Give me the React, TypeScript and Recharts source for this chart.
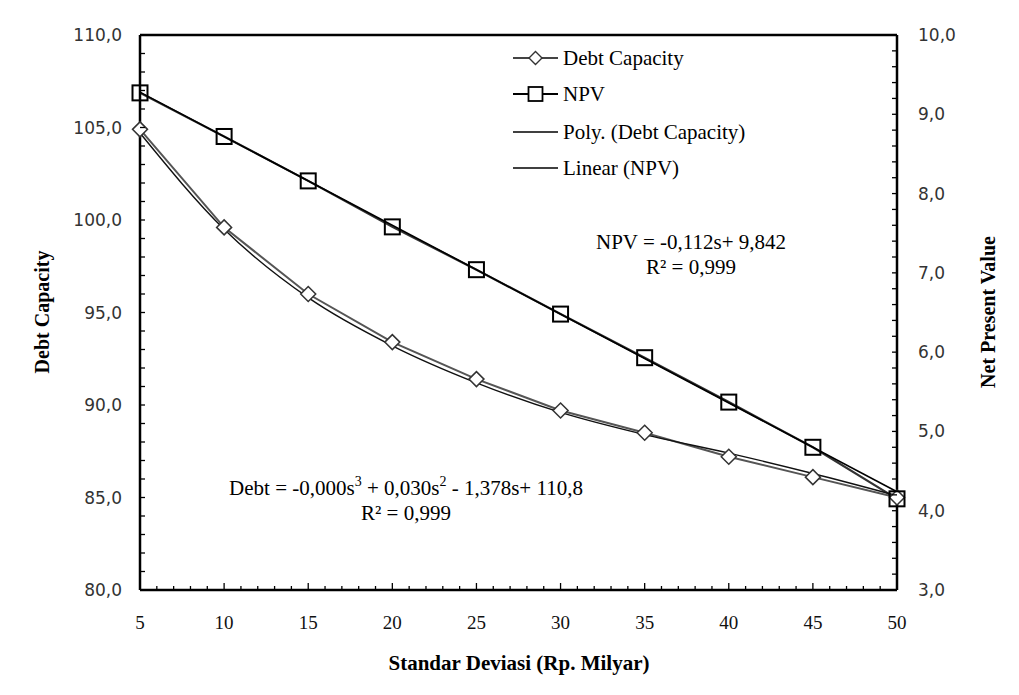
import React from 'react';
import { ComposedChart, Line, XAxis, YAxis, ReferenceLine, Legend, Customized } from 'recharts';

// Standard deviation (Rp. billion) on the x axis
const deviations = [5, 10, 15, 20, 25, 30, 35, 40, 45, 50];
// Debt capacity (left axis)
const debtCapacity = [104.9, 99.6, 96.0, 93.4, 91.4, 89.7, 88.5, 87.2, 86.1, 85.0];
// Polynomial trend of debt capacity
const debtPolyTrend = [104.7, 99.5, 95.8, 93.2, 91.2, 89.6, 88.4, 87.4, 86.3, 85.1];
// Net present value (right axis)
const npvValues = [9.27, 8.72, 8.16, 7.58, 7.04, 6.48, 5.93, 5.37, 4.8, 4.15];
// Linear trend of NPV (end points)
const npvLinearTrend: (number | null)[] = [9.28, null, null, null, null, null, null, null, null, 4.24];

const xMajorTicks = [5, 10, 15, 20, 25, 30, 35, 40, 45, 50];
const debtMajorTicks = [80, 85, 90, 95, 100, 105, 110];
const npvMajorTicks = [3, 4, 5, 6, 7, 8, 9, 10];

const xTicks = Array.from({ length: 46 }, (_, i) => 5 + i);
const debtTicks = Array.from({ length: 31 }, (_, i) => 80 + i);
const npvTicks = Array.from({ length: 36 }, (_, i) => Math.round((3 + i * 0.2) * 10) / 10);

const data = deviations.map((s, i) => ({
  s,
  debt: debtCapacity[i],
  debtTrend: debtPolyTrend[i],
  npv: npvValues[i],
  npvTrend: npvLinearTrend[i],
}));

const SERIF = "'Liberation Serif', 'Times New Roman', serif";
const SANS = "'DejaVu Sans', Verdana, sans-serif";

const fmt = (v: number) => v.toFixed(1).replace('.', ',');

const XTick = (props: any) => {
  const { x, y, payload } = props;
  const v = payload.value as number;
  const major = xMajorTicks.includes(v);
  return (
    <g>
      <line x1={x} x2={x} y1={y} y2={y - (major ? 7 : 4)} stroke="#000" strokeWidth={1.3} />
      {major && (
        <text x={x} y={y + 32} textAnchor="middle" dominantBaseline="central" fontFamily={SERIF} fontSize={19} fill="#111">
          {v}
        </text>
      )}
    </g>
  );
};

const LeftTick = (props: any) => {
  const { x, y, payload } = props;
  const v = payload.value as number;
  const major = debtMajorTicks.includes(v);
  return (
    <g>
      <line x1={x} x2={x + 5} y1={y} y2={y} stroke="#000" strokeWidth={1.3} />
      {major && (
        <text x={x - 18} y={y} textAnchor="end" dominantBaseline="central" fontFamily={SANS} fontSize={17} fill="#333">
          {fmt(v)}
        </text>
      )}
    </g>
  );
};

const RightTick = (props: any) => {
  const { x, y, payload } = props;
  const v = payload.value as number;
  const major = npvMajorTicks.some((m) => Math.abs(m - v) < 1e-6);
  return (
    <g>
      <line x1={x} x2={x - 5} y1={y} y2={y} stroke="#000" strokeWidth={1.3} />
      {major && (
        <text x={x + 21} y={y} textAnchor="start" dominantBaseline="central" fontFamily={SANS} fontSize={17} fill="#333">
          {fmt(v)}
        </text>
      )}
    </g>
  );
};

const diamondPath = (cx: number, cy: number, r: number) =>
  `M${cx},${cy - r} L${cx + r},${cy} L${cx},${cy + r} L${cx - r},${cy} Z`;

const renderDiamond = (p: any) => {
  if (p.cx == null || p.cy == null) return <g key={`dia-${p.index}`} />;
  return <path key={`dia-${p.index}`} d={diamondPath(p.cx, p.cy, 7.5)} fill="#fff" stroke="#333" strokeWidth={1.5} />;
};

const renderSquare = (p: any) => {
  if (p.cx == null || p.cy == null) return <g key={`sq-${p.index}`} />;
  return <rect key={`sq-${p.index}`} x={p.cx - 7.5} y={p.cy - 7.5} width={15} height={15} fill="none" stroke="#000" strokeWidth={2} />;
};

const LegendBox = () => {
  const rows = [
    { label: 'Debt Capacity', y: 18, marker: 'diamond', stroke: '#444', w: 1.8 },
    { label: 'NPV', y: 54, marker: 'square', stroke: '#000', w: 1.8 },
    { label: 'Poly. (Debt Capacity)', y: 92, marker: 'none', stroke: '#000', w: 1.5 },
    { label: 'Linear (NPV)', y: 128, marker: 'none', stroke: '#000', w: 1.5 },
  ];
  return (
    <svg width={260} height={150} style={{ display: 'block' }}>
      {rows.map((r) => (
        <g key={r.label}>
          <line x1={2} x2={47} y1={r.y} y2={r.y} stroke={r.stroke} strokeWidth={r.w} />
          {r.marker === 'diamond' && <path d={diamondPath(24.5, r.y, 6.5)} fill="#fff" stroke="#333" strokeWidth={1.4} />}
          {r.marker === 'square' && <rect x={17.5} y={r.y - 7} width={14} height={14} fill="#fff" stroke="#000" strokeWidth={1.8} />}
          <text x={52} y={r.y} dominantBaseline="central" fontFamily={SERIF} fontSize={21} fill="#000">
            {r.label}
          </text>
        </g>
      ))}
    </svg>
  );
};

const Annotations = () => (
  <g fontFamily={SERIF} fill="#000">
    <text x={519} y={663} textAnchor="middle" dominantBaseline="central" fontSize={21} fontWeight="bold">
      Standar Deviasi (Rp. Milyar)
    </text>
    <text
      x={42}
      y={312}
      textAnchor="middle"
      dominantBaseline="central"
      fontSize={20}
      fontWeight="bold"
      transform="rotate(-90 42 312)"
    >
      Debt Capacity
    </text>
    <text
      x={988}
      y={312}
      textAnchor="middle"
      dominantBaseline="central"
      fontSize={20}
      fontWeight="bold"
      transform="rotate(-90 988 312)"
    >
      Net Present Value
    </text>
    <text x={691} y={242} textAnchor="middle" dominantBaseline="central" fontSize={21}>
      NPV = -0,112s+ 9,842
    </text>
    <text x={691} y={267} textAnchor="middle" dominantBaseline="central" fontSize={21}>
      R² = 0,999
    </text>
    <text x={406} y={488} textAnchor="middle" dominantBaseline="central" fontSize={21}>
      <tspan>Debt = -0,000s</tspan>
      <tspan fontSize={14} dy={-7}>3</tspan>
      <tspan dy={7}> + 0,030s</tspan>
      <tspan fontSize={14} dy={-7}>2</tspan>
      <tspan dy={7}> - 1,378s+ 110,8</tspan>
    </text>
    <text x={406} y={513} textAnchor="middle" dominantBaseline="central" fontSize={21}>
      R² = 0,999
    </text>
  </g>
);

export default function App() {
  return (
    <div style={{ position: 'absolute', left: 0, top: 0, background: '#fff' }}>
      <ComposedChart width={1019} height={695} data={data} margin={{ top: 35, right: 0, bottom: 0, left: 0 }}>
        <XAxis
          dataKey="s"
          type="number"
          domain={[5, 50]}
          ticks={xTicks}
          interval={0}
          height={105}
          tickSize={0}
          tickMargin={0}
          tick={<XTick />}
          tickLine={false}
          axisLine={{ stroke: '#000', strokeWidth: 2.5 }}
        />
        <YAxis
          yAxisId="left"
          orientation="left"
          domain={[80, 110]}
          ticks={debtTicks}
          interval={0}
          width={140}
          tickSize={0}
          tickMargin={0}
          tick={<LeftTick />}
          tickLine={false}
          axisLine={{ stroke: '#000', strokeWidth: 2.5 }}
        />
        <YAxis
          yAxisId="right"
          orientation="right"
          domain={[3, 10]}
          ticks={npvTicks}
          interval={0}
          width={122}
          tickSize={0}
          tickMargin={0}
          tick={<RightTick />}
          tickLine={false}
          axisLine={{ stroke: '#000', strokeWidth: 2.5 }}
        />
        <ReferenceLine yAxisId="left" y={110} stroke="#000" strokeWidth={2.5} />
        <Line
          yAxisId="left"
          dataKey="debt"
          name="Debt Capacity"
          type="linear"
          stroke="#555"
          strokeWidth={2}
          dot={renderDiamond}
          activeDot={false}
          isAnimationActive={false}
        />
        <Line
          yAxisId="right"
          dataKey="npv"
          name="NPV"
          type="linear"
          stroke="#333"
          strokeWidth={2.2}
          dot={renderSquare}
          activeDot={false}
          isAnimationActive={false}
        />
        <Line
          yAxisId="left"
          dataKey="debtTrend"
          name="Poly. (Debt Capacity)"
          type="monotone"
          stroke="#111"
          strokeWidth={1.4}
          dot={false}
          activeDot={false}
          isAnimationActive={false}
        />
        <Line
          yAxisId="right"
          dataKey="npvTrend"
          name="Linear (NPV)"
          type="linear"
          connectNulls
          stroke="#000"
          strokeWidth={1.6}
          dot={false}
          activeDot={false}
          isAnimationActive={false}
        />
        <Legend
          layout="vertical"
          align="center"
          verticalAlign="middle"
          wrapperStyle={{ position: 'absolute', left: 511, top: 40, width: 260, height: 150 }}
          content={() => <LegendBox />}
        />
        <Customized component={Annotations} />
      </ComposedChart>
    </div>
  );
}
